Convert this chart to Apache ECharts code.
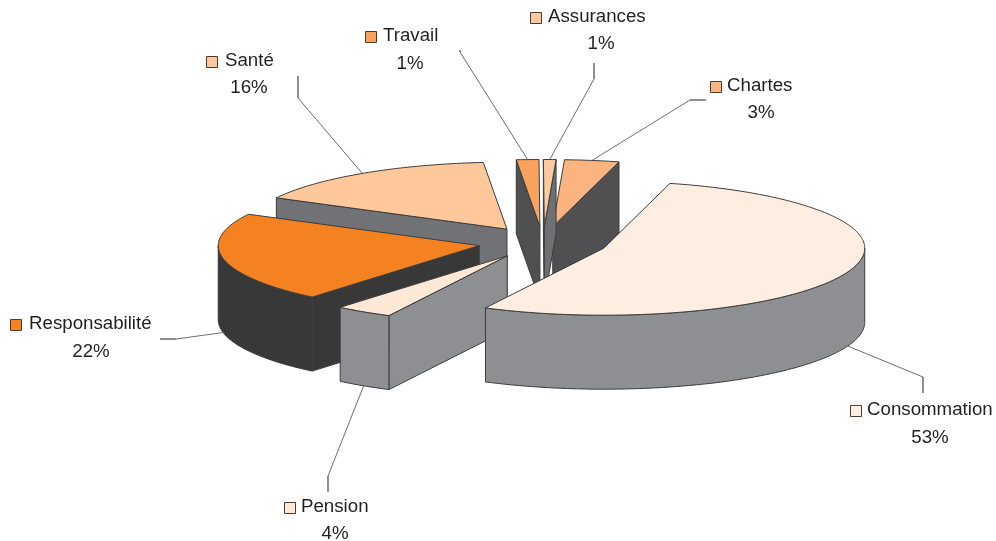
<!DOCTYPE html>
<html>
<head>
<meta charset="utf-8">
<title>Répartition</title>
<style>
    html, body { margin: 0; padding: 0; background: #fff; }
    #chart { width: 996px; height: 541px; }
</style>
<script src="https://cdn.jsdelivr.net/npm/echarts@6/dist/echarts.min.js"></script>
</head>
<body>
<div id="chart"></div>
<script>
// data (Travail and Assurances both print as 1%, their wedges differ)
const names = ['Consommation', 'Pension', 'Responsabilité', 'Santé', 'Travail', 'Assurances', 'Chartes'];
const shares = [53.9, 3.6, 21.9, 15.95, 1.4, 0.78, 3.4];

// styles
const topColors = ['#FEEEE2', '#FFE8D6', '#F58220', '#FEC89B', '#FAA35E', '#FEC99E', '#FBB37F'];
const wallColors = ['#8E8F92', '#8E8F92', '#383838', '#717275', '#4F5052', '#6F7073', '#505052'];
const paintOrder = [6, 5, 4, 3, 2, 1, 0]; // z rank per slice, back to front
const edgeColor = '#3c3c3c';
const textColor = '#231F20';

// pie layout
const startAngle = 14.7;
const center = [543, 242.5];
const radius = [261, 67];
const depth = 74;
const explode = [65, 16];

// label layout, same order as names: swatch left, line y, text left, percent centre, percent y, elbow, leader end
const swatchX = [850, 284, 10, 206, 365, 530, 710];
const labelX = [867, 301, 29, 225, 383, 548, 727];
const labelY = [411, 508, 325, 62, 37, 18, 87];
const percentX = [930, 335, 91, 249, 410, 601, 761];
const percentY = [438, 534, 352, 88, 64, 44, 113];
const elbows = [[923, 377], [328, 476], [176, 339], [298, 98], [460, 52], [594, 79], [690, 100]];
const leaderEnds = [[923, 393], [328, 492], [160, 339], [298, 76], [460, 50], [594, 63], [706, 100]];

const total = shares.reduce((a, b) => a + b, 0);
const rad = d => d * Math.PI / 180;

// angle in degrees clockwise from the top of the ellipse
const sliceAngles = [];
let cursor = startAngle;
shares.forEach(v => {
    const sweep = v / total * 360;
    sliceAngles.push([cursor, cursor + sweep]);
    cursor += sweep;
});

const rimPoint = (apex, t, dy) => [
    apex[0] + radius[0] * Math.sin(rad(t)),
    apex[1] - radius[1] * Math.cos(rad(t)) + dy
];

const arcPoints = (apex, from, to, dy) => {
    const pts = [];
    for (let t = from; t < to; t += 1) {
        pts.push(rimPoint(apex, t, dy));
    }
    pts.push(rimPoint(apex, to, dy));
    return pts;
};

const face = (points, fill, z2) => ({
    type: 'polygon',
    z2,
    shape: { points },
    style: { fill, stroke: edgeColor, lineWidth: 1, lineJoin: 'round' }
});

const edgeWall = (apex, t, fill, z2) => {
    const rim = rimPoint(apex, t, 0);
    return face([apex, rim, [rim[0], rim[1] + depth], [apex[0], apex[1] + depth]], fill, z2);
};

const renderSlice = (params, api) => {
    const i = api.value(0);
    const [from, to] = sliceAngles[i];
    const mid = (from + to) / 2;
    const apex = [
        center[0] + explode[0] * Math.sin(rad(mid)),
        center[1] - explode[1] * Math.cos(rad(mid))
    ];
    const z = paintOrder[i] * 10;
    const children = [];

    // only walls turned toward the viewer are drawn
    if (Math.sin(rad(from)) < 0) children.push(edgeWall(apex, from, wallColors[i], z));
    if (Math.sin(rad(to)) > 0) children.push(edgeWall(apex, to, wallColors[i], z));

    // rim wall, front half of the ellipse (90..270, also tried one turn up)
    [0, 360].forEach(turn => {
        const a = Math.max(from, 90 + turn);
        const b = Math.min(to, 270 + turn);
        if (a < b) {
            const upper = arcPoints(apex, a, b, 0);
            const lower = arcPoints(apex, a, b, depth).reverse();
            children.push(face(upper.concat(lower), wallColors[i], z + 1));
        }
    });

    children.push(face([apex].concat(arcPoints(apex, from, to, 0)), topColors[i], z + 2));

    // leader starts on the rim at the slice's middle, on the wall's foot for front slices
    const norm = ((mid % 360) + 360) % 360;
    const start = rimPoint(apex, mid, norm > 90 && norm < 270 ? depth : 0);
    children.push({
        type: 'polyline',
        z2: 200,
        shape: { points: [start, elbows[i]] },
        style: { fill: null, stroke: '#6d6e71', lineWidth: 1 }
    });
    children.push({
        type: 'polyline',
        z2: 200,
        shape: { points: [elbows[i], leaderEnds[i]] },
        style: { fill: null, stroke: '#231F20', lineWidth: 1 }
    });

    // label: swatch, name, percent
    children.push({
        type: 'rect',
        z2: 210,
        shape: { x: swatchX[i] + 0.5, y: labelY[i] - 5.5, width: 11, height: 11 },
        style: { fill: topColors[i], stroke: '#4a3a30', lineWidth: 1 }
    });
    children.push({
        type: 'text',
        z2: 210,
        style: {
            x: labelX[i],
            y: labelY[i] - 1,
            text: names[i],
            fill: textColor,
            font: '18.7px "Liberation Sans", Arial, sans-serif',
            textAlign: 'left',
            textVerticalAlign: 'middle'
        }
    });
    children.push({
        type: 'text',
        z2: 210,
        style: {
            x: percentX[i],
            y: percentY[i],
            text: Math.round(api.value(1) / total * 100) + '%',
            fill: textColor,
            font: '18.7px "Liberation Sans", Arial, sans-serif',
            textAlign: 'center',
            textVerticalAlign: 'middle'
        }
    });

    return { type: 'group', children };
};

const chart = echarts.init(document.getElementById('chart'), null, { renderer: 'canvas' });

chart.setOption({
    backgroundColor: '#fff',
    animation: false,
    series: [
        {
            type: 'custom',
            coordinateSystem: 'none',
            silent: true,
            renderItem: renderSlice,
            data: shares.map((v, i) => [i, v])
        }
    ]
});
</script>
</body>
</html>
